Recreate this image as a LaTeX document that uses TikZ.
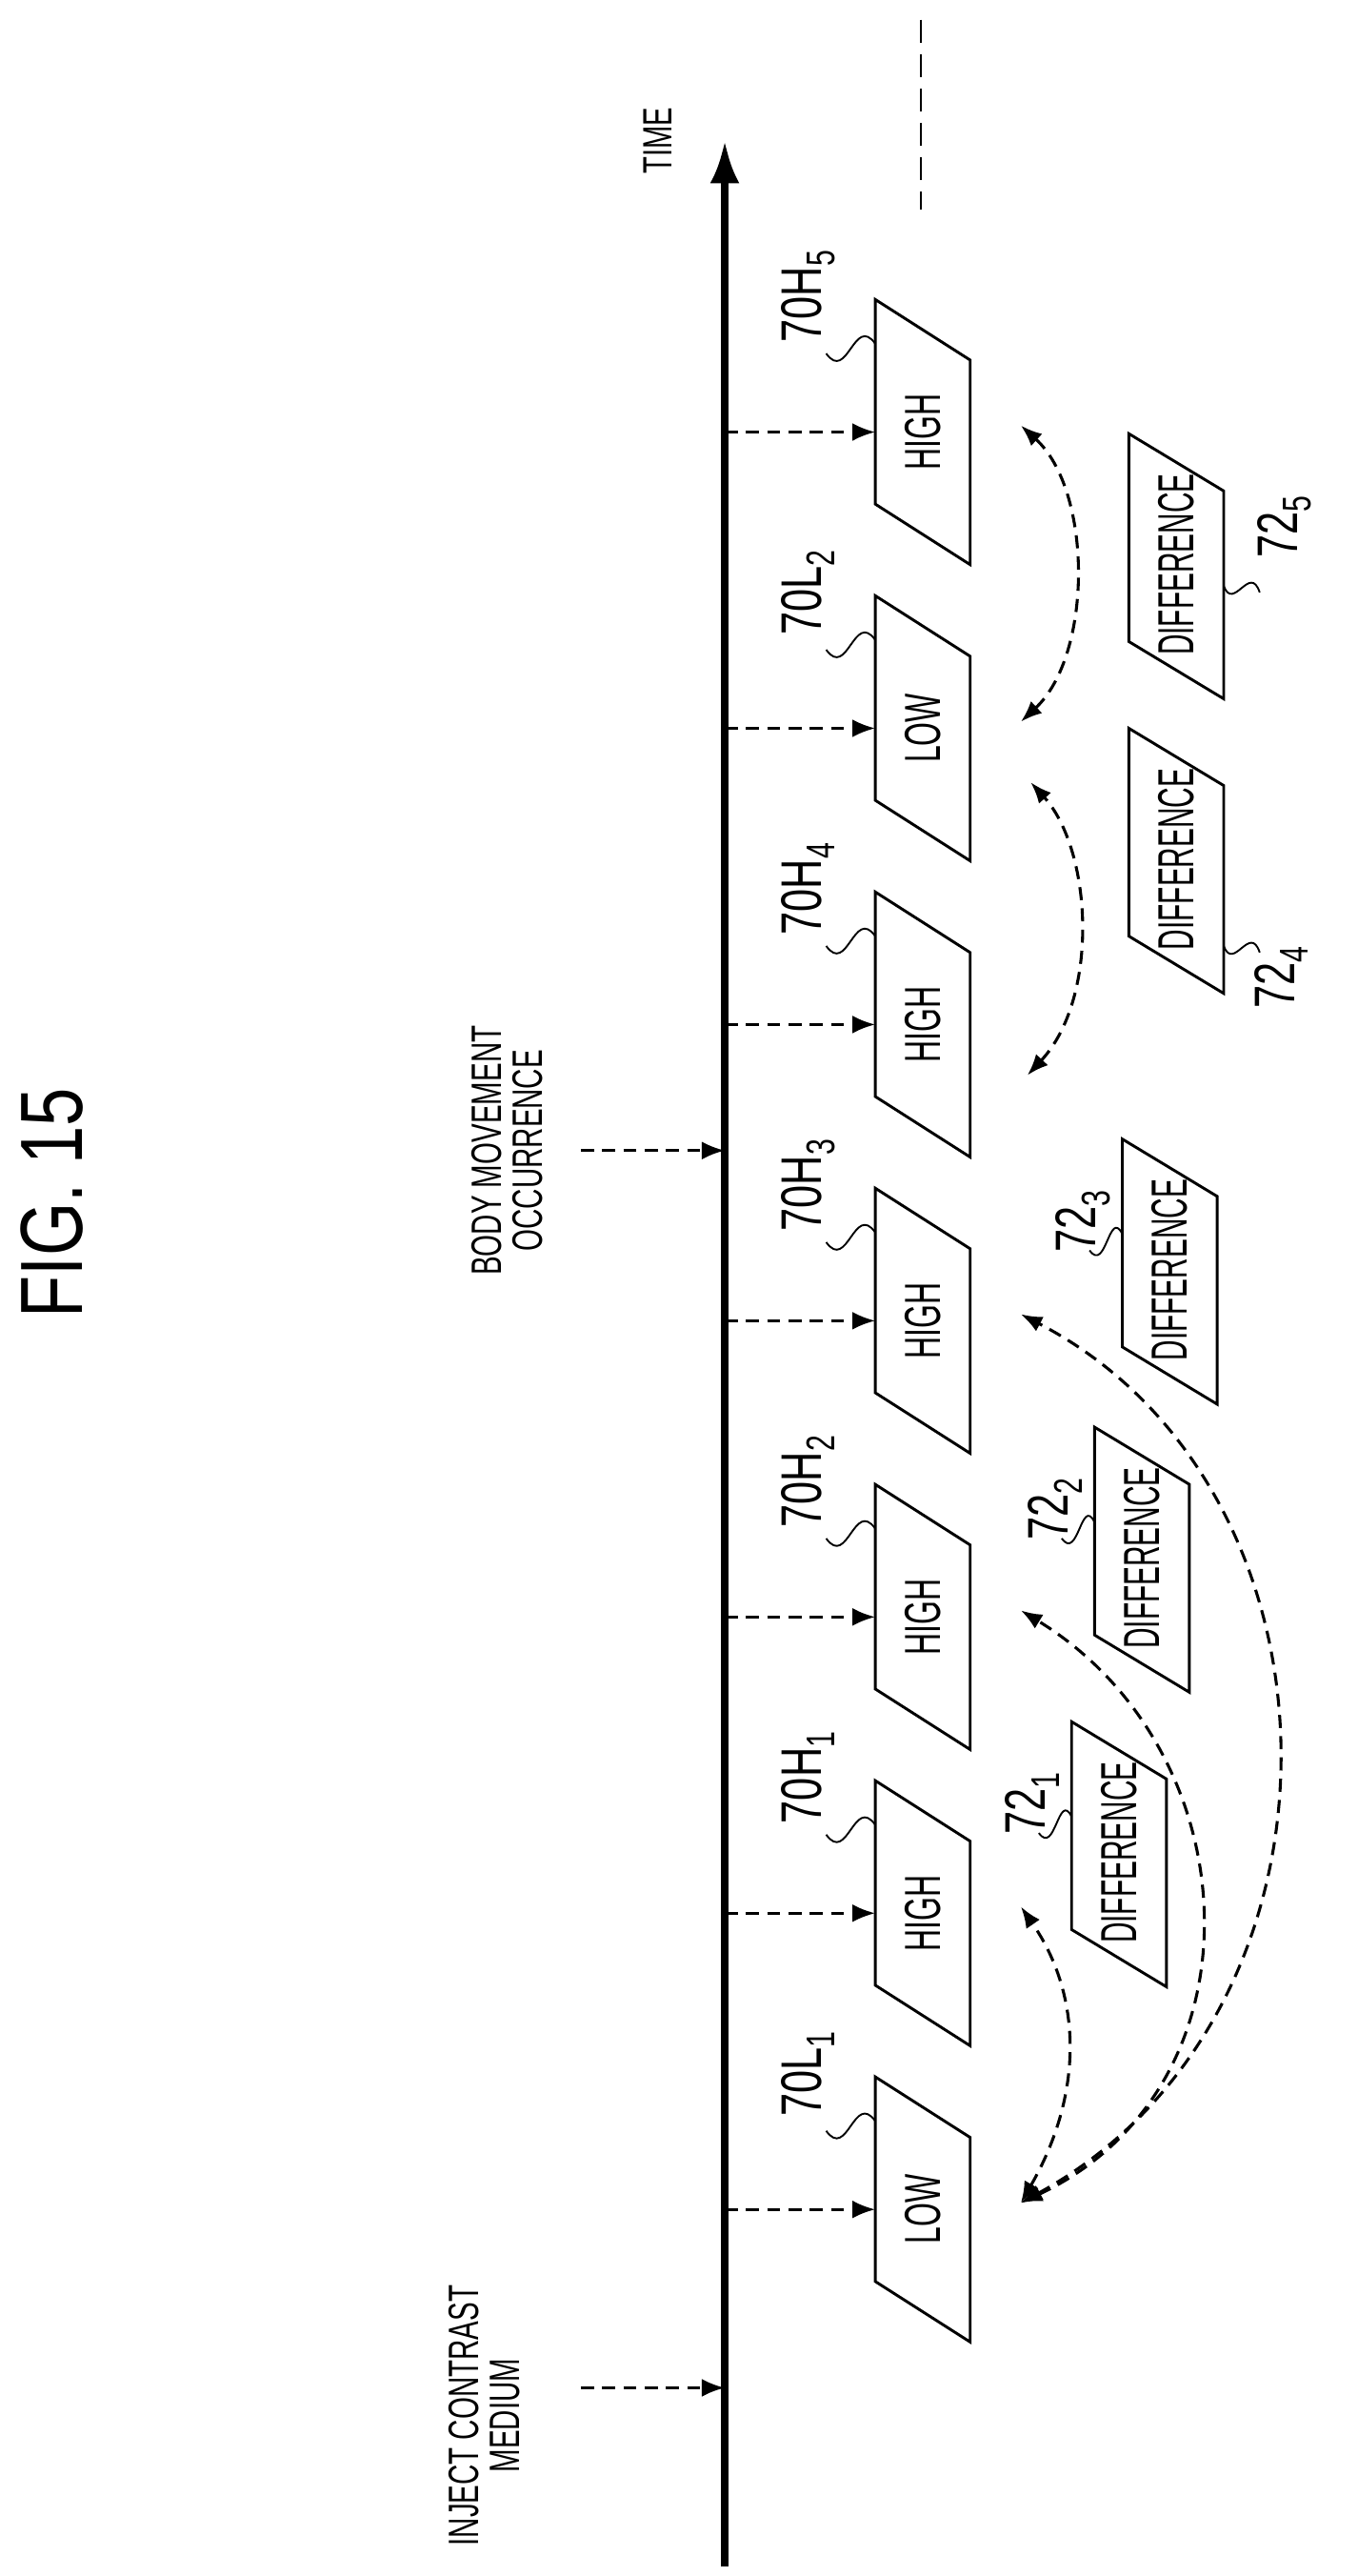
\documentclass[tikz,border=0pt]{standalone}
\usepackage{fontspec}
\setmainfont{Liberation Sans}
\usetikzlibrary{arrows.meta}
\newcommand{\cnd}[2][0.62]{\scalebox{#1}[1]{#2}}

\begin{document}
\begin{tikzpicture}[x=1pt,y=1pt,yscale=-1,xscale=1,
  txt/.style={rotate=90,inner sep=0.75pt,font=\fontsize{31}{33}\selectfont},
  ref/.style={rotate=90,inner sep=0.75pt,font=\fontsize{35}{37}\selectfont},
  dsh/.style={dash pattern=on 8pt off 5pt,line width=1.8pt},
  tick/.style={dsh,-{Latex[length=14pt,width=11pt]}},
  swap/.style={dsh,{Latex[length=13pt,width=10pt]}-{Latex[length=13pt,width=10pt]}},
  box/.style={line width=1.7pt,line join=miter},
  sq/.style={line width=1.1pt}]
\path[use as bounding box] (0,0) rectangle (830,1574);

% title
\node[rotate=90,font=\fontsize{54}{56}\selectfont] (fig) at (32,735) {\cnd[0.78]{FIG. 15}};

% time axis
\coordinate (t0) at (443,1568);
\coordinate (t1) at (443,86);
\draw[line width=4.5pt,-{Latex[length=26pt,width=18pt]}] (t0) -- (t1);
\node[txt,font=\fontsize{25}{27}\selectfont] (time) at (402,86) {\cnd[0.68]{TIME}};
\draw[line width=1.4pt,dash pattern=on 14pt off 7pt] (563,12) -- (563,128);

% events
\node[txt,align=center,font=\fontsize{26}{25}\selectfont] (inj) at (296,1476) {\cnd[0.66]{INJECT CONTRAST}\\\cnd[0.66]{MEDIUM}};
\coordinate (inja) at (443,1459);
\draw[tick] (355,1459) -- (inja);
\node[txt,align=center,font=\fontsize{26}{25}\selectfont] (body) at (310,703) {\cnd[0.66]{BODY MOVEMENT}\\\cnd[0.66]{OCCURRENCE}};
\coordinate (bodya) at (443,703);
\draw[tick] (355,703) -- (bodya);

% images 70
\foreach \i/\t/\r in {0/LOW/70L\textsubscript{1},1/HIGH/70H\textsubscript{1},2/HIGH/70H\textsubscript{2},3/HIGH/70H\textsubscript{3},
                      4/HIGH/70H\textsubscript{4},5/LOW/70L\textsubscript{2},6/HIGH/70H\textsubscript{5}}{
  \pgfmathsetmacro\c{1350-181*\i}
  \draw[box] (535,\c-81) -- (593,\c-44) -- (593,\c+81) -- (535,\c+44) -- cycle;
  \node[txt] (img\i) at (564,\c) {\cnd[0.6]{\t}};
  \coordinate (ax\i) at (443,\c);
  \coordinate (in\i) at (535,\c);
  \draw[tick] (ax\i) -- (in\i);
  \node[ref] (lb\i) at (494,\c-83) {\cnd[0.72]{\r}};
  \draw[sq] (535,\c-54) .. controls (522,\c-72) and (518,\c-30) .. (505,\c-48);
  \coordinate (p\i) at (624,\c-4);
}

% images 72
\foreach \j/\x/\c in {1/655/1132,2/669/952,3/686/776,4/690/525,5/690/345}{
  \draw[box] (\x,\c-80) -- (\x+58,\c-45) -- (\x+58,\c+82) -- (\x,\c+47) -- cycle;
  \node[txt] (dif\j) at (\x+29,\c) {\cnd[0.56]{DIFFERENCE}};
}
\foreach \j/\x/\c in {1/655/1132,2/669/952,3/686/776}{
  \node[ref] (dl\j) at (\x-24,\c-30) {\cnd[0.72]{72\textsubscript{\j}}};
  \draw[sq] (\x,\c-22) .. controls (\x-8,\c-38) and (\x-10,\c+2) .. (\x-20,\c-12);
}
\node[ref] (dl4) at (783,597) {\cnd[0.72]{72\textsubscript{4}}};
\draw[sq] (748,578) .. controls (754,594) and (764,564) .. (770,582);
\node[ref] (dl5) at (785,322) {\cnd[0.72]{72\textsubscript{5}}};
\draw[sq] (748,358) .. controls (754,374) and (764,344) .. (770,362);

% pairings
\draw[swap] (p0) .. controls (662,1280) and (662,1220) .. (p1);
\draw[swap] (p0) .. controls (775,1275) and (765,1070) .. (p2);
\draw[swap] (p0) .. controls (835,1230) and (830,910) .. (p3);
\draw[swap] (628,657) .. controls (672,610) and (668,520) .. (630,478);
\draw[swap] (p5) .. controls (668,400) and (668,300) .. (p6);
\end{tikzpicture}
\end{document}
